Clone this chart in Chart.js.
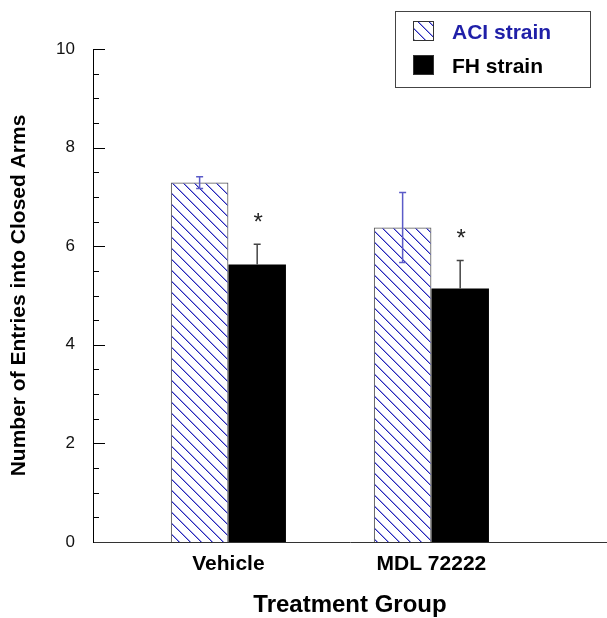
<!DOCTYPE html>
<html lang="en">
<head>
<meta charset="UTF-8">
<title>Entries into Closed Arms</title>
<script src="https://cdn.jsdelivr.net/npm/chart.js"></script>
<style>
    body { margin: 0; padding: 0; background: #ffffff; }
    #wrap { width: 607px; height: 618px; }
</style>
</head>
<body>
<div id="wrap"><canvas id="entriesChart" width="607" height="618"></canvas></div>
<script>
    // data
    const groups = ['Vehicle', 'MDL 72222'];
    const groupPos = [1, 2];
    const aciMeans = [7.29, 6.38];
    const aciErr = [0.12, 0.71];
    const fhMeans = [5.63, 5.14];
    const fhErr = [0.41, 0.57];
    const fhSignificant = [true, true];
    const yTicks = [0, 2, 4, 6, 8, 10];

    const FONT = "'Liberation Sans', Arial, sans-serif";
    Chart.defaults.font.family = FONT;

    // blue diagonal hatch for the ACI bars (crisp pixel staircase)
    function makeHatch() {
        const s = 11;
        const c = document.createElement('canvas');
        c.width = s; c.height = s;
        const g = c.getContext('2d');
        g.fillStyle = '#2626bb';
        for (let i = 0; i < s; i++) {
            g.fillRect(i, i, 1, 1);
        }
        g.fillStyle = 'rgba(38,38,187,0.45)';
        for (let i = 0; i < s; i++) {
            g.fillRect((i + 1) % s, i, 1, 1);
        }
        return g.createPattern(c, 'repeat');
    }

    const errorBars = {
        id: 'errorBars',
        afterDatasetsDraw(chart) {
            const ctx = chart.ctx;
            const y = chart.scales.y;
            chart.data.datasets.forEach((ds, i) => {
                const meta = chart.getDatasetMeta(i);
                meta.data.forEach((bar, j) => {
                    const top = y.getPixelForValue(ds.means[j] + ds.errs[j]);
                    const bot = ds.upOnly ? bar.y : y.getPixelForValue(ds.means[j] - ds.errs[j]);
                    ctx.save();
                    ctx.strokeStyle = ds.errColor;
                    ctx.lineWidth = 1.5;
                    ctx.beginPath();
                    ctx.moveTo(bar.x, top); ctx.lineTo(bar.x, bot);
                    ctx.moveTo(bar.x - 3.5, top); ctx.lineTo(bar.x + 3.5, top);
                    if (!ds.upOnly) {
                        ctx.moveTo(bar.x - 3.5, bot); ctx.lineTo(bar.x + 3.5, bot);
                    }
                    ctx.stroke();
                    if (ds.sig && ds.sig[j]) {
                        ctx.fillStyle = '#222';
                        ctx.font = '24px ' + FONT;
                        ctx.textAlign = 'center';
                        ctx.textBaseline = 'alphabetic';
                        ctx.fillText('*', bar.x + 1, top - 14);
                    }
                    ctx.restore();
                });
            });
        }
    };

    // inward tick marks on the y axis
    const yTickMarks = {
        id: 'yTickMarks',
        afterDraw(chart) {
            const ctx = chart.ctx;
            const y = chart.scales.y;
            const left = chart.chartArea.left;
            ctx.save();
            ctx.strokeStyle = '#000';
            ctx.lineWidth = 1;
            ctx.beginPath();
            for (let v = 0.5; v <= 10; v += 0.5) {
                const py = Math.round(y.getPixelForValue(v)) + 0.5;
                const len = v % 2 === 0 ? 12 : 6;
                ctx.moveTo(left, py);
                ctx.lineTo(left + len, py);
            }
            ctx.stroke();
            ctx.restore();
        }
    };

    const boxLegend = {
        id: 'boxLegend',
        afterDraw(chart, args, opts) {
            const ctx = chart.ctx;
            ctx.save();
            ctx.strokeStyle = '#444';
            ctx.lineWidth = 1;
            ctx.strokeRect(395.5, 11.5, 195, 76);
            chart.data.datasets.forEach((ds, i) => {
                const sy = 21 + i * 34;
                ctx.fillStyle = ds.backgroundColor;
                ctx.fillRect(413, sy, 21, 20);
                ctx.strokeStyle = '#333';
                ctx.strokeRect(413.5, sy + 0.5, 20, 19);
                ctx.fillStyle = opts.textColors[i];
                ctx.font = 'bold 21px ' + FONT;
                ctx.textBaseline = 'alphabetic';
                ctx.fillText(ds.label, 452, sy + 18);
            });
            ctx.restore();
        }
    };

    const ctx = document.getElementById('entriesChart').getContext('2d');
    new Chart(ctx, {
        type: 'bar',
        data: {
            datasets: [
                {
                    label: 'ACI strain',
                    data: groupPos.map((p, i) => ({ x: p, y: aciMeans[i] })),
                    backgroundColor: makeHatch(),
                    borderColor: '#555',
                    borderWidth: 1,
                    means: aciMeans,
                    errs: aciErr,
                    errColor: '#5b5bc8',
                    upOnly: false
                },
                {
                    label: 'FH strain',
                    data: groupPos.map((p, i) => ({ x: p, y: fhMeans[i] })),
                    backgroundColor: '#000000',
                    borderColor: '#000000',
                    borderWidth: 0,
                    means: fhMeans,
                    errs: fhErr,
                    errColor: '#444',
                    upOnly: true,
                    sig: fhSignificant
                }
            ]
        },
        options: {
            responsive: false,
            animation: false,
            categoryPercentage: 0.567,
            barPercentage: 1,
            layout: { padding: { top: 49, left: 0, right: 0, bottom: 0 } },
            scales: {
                x: {
                    type: 'linear',
                    offset: false,
                    min: 0.333,
                    max: 2.865,
                    afterBuildTicks: (scale) => { scale.ticks = groupPos.map(v => ({ value: v })); },
                    afterFit: (scale) => { scale.height = 76; },
                    grid: { display: false, drawTicks: false },
                    border: { display: true, color: '#333', width: 1 },
                    ticks: {
                        padding: 10,
                        color: '#000',
                        font: { size: 21, weight: 'bold' },
                        callback: (v) => groups[groupPos.indexOf(v)]
                    },
                    title: {
                        display: true,
                        text: 'Treatment Group',
                        color: '#000',
                        font: { size: 24, weight: 'bold' },
                        padding: { top: 0, bottom: -2 }
                    }
                },
                y: {
                    min: 0,
                    max: 10,
                    afterBuildTicks: (scale) => { scale.ticks = yTicks.map(v => ({ value: v })); },
                    afterFit: (scale) => { scale.width = 93; },
                    grid: { display: false, drawTicks: false },
                    border: { display: true, color: '#000', width: 1 },
                    ticks: {
                        padding: 18,
                        color: '#111',
                        font: { size: 17 }
                    },
                    title: {
                        display: true,
                        text: 'Number of Entries into Closed Arms',
                        color: '#000',
                        font: { size: 21, weight: 'bold' },
                        padding: { top: 7, bottom: 0 }
                    }
                }
            },
            plugins: {
                legend: { display: false },
                tooltip: { enabled: false },
                boxLegend: { textColors: ['#1f1fa8', '#000000'] }
            }
        },
        plugins: [errorBars, yTickMarks, boxLegend]
    });
</script>
</body>
</html>
